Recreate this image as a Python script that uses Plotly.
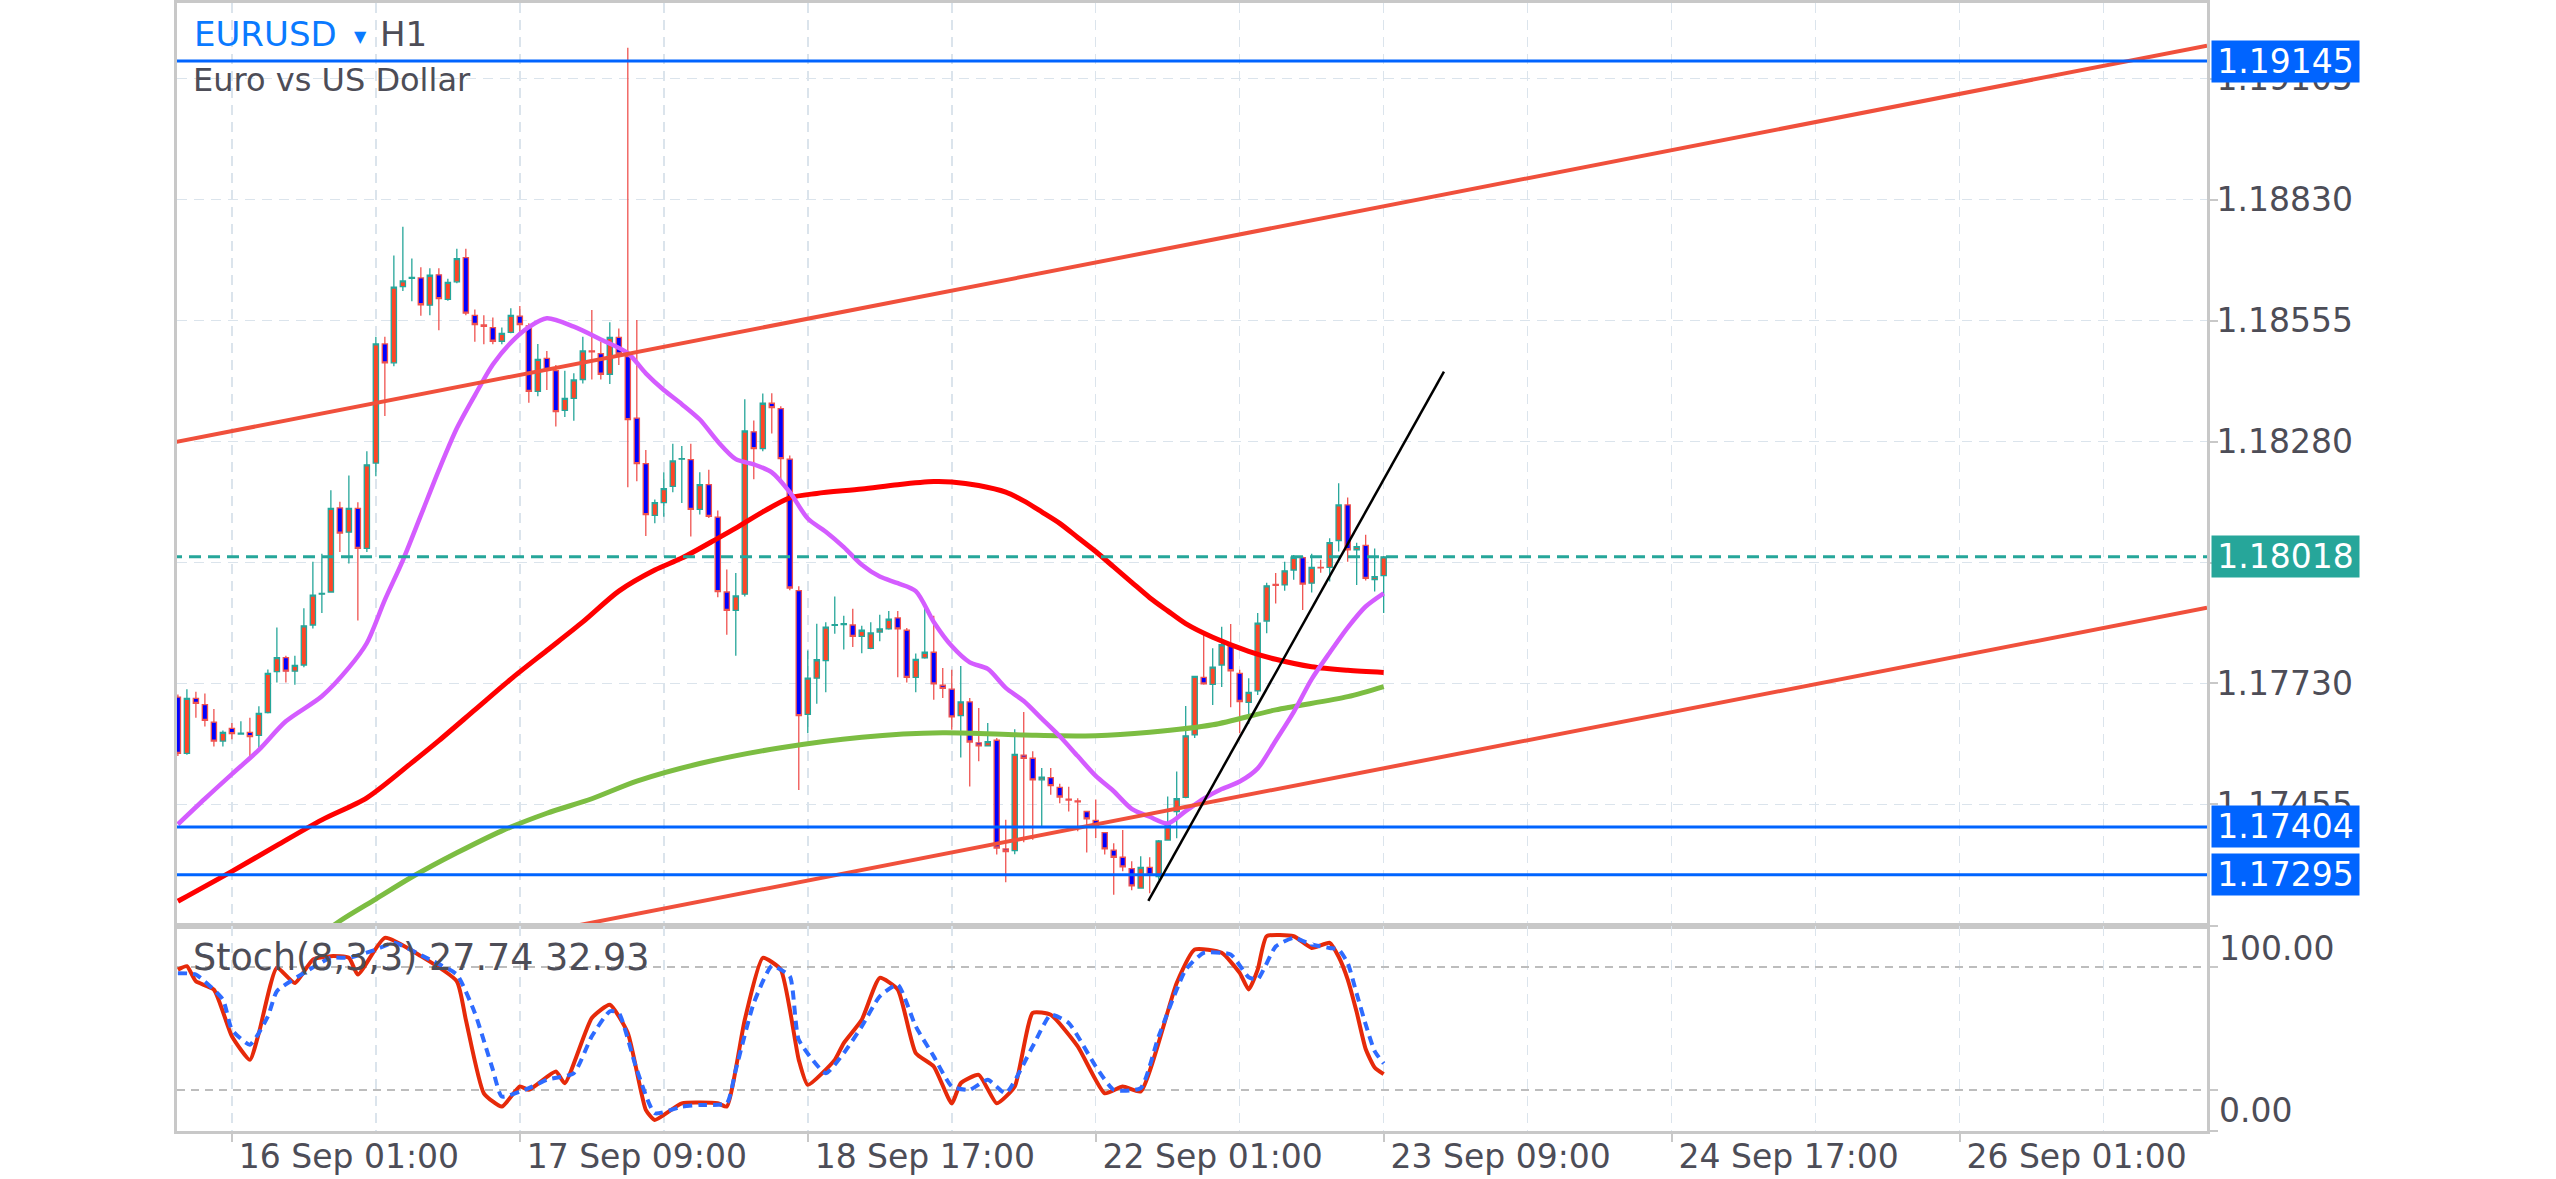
import plotly.graph_objects as go
from plotly.subplots import make_subplots

# ---------------- data (EURUSD H1) ----------------
FIRST_BAR = -6  # bar index of first candle; bar 0 = 16 Sep 01:00

opens = [1.17699, 1.17571, 1.17696, 1.17682, 1.17642, 1.17599, 1.17628, 1.17615, 1.17619, 1.17612,
         1.17664, 1.17757, 1.17789, 1.17758, 1.17772, 1.17863, 1.17933, 1.17938, 1.18129, 1.18074,
         1.18128, 1.18037, 1.18231, 1.18502, 1.18459, 1.18632, 1.18651, 1.18652, 1.18590, 1.18659,
         1.18603, 1.18643, 1.18698, 1.18567, 1.18545, 1.18539, 1.18508, 1.18528, 1.18565, 1.18543,
         1.18394, 1.18469, 1.18441, 1.18351, 1.18378, 1.18421, 1.18486, 1.18480, 1.18433, 1.18517,
         1.18473, 1.18333, 1.18230, 1.18112, 1.18141, 1.18178, 1.18240, 1.18239, 1.18126, 1.18182,
         1.18108, 1.17938, 1.17896, 1.17933, 1.18302, 1.18264, 1.18367, 1.18355, 1.18240, 1.17941,
         1.17660, 1.17742, 1.17782, 1.17862, 1.17864, 1.17863, 1.17837, 1.17810, 1.17847, 1.17854,
         1.17879, 1.17851, 1.17744, 1.17788, 1.17801, 1.17726, 1.17717, 1.17657, 1.17688, 1.17595,
         1.17588, 1.17601, 1.17354, 1.17350, 1.17567, 1.17560, 1.17511, 1.17516, 1.17494, 1.17467,
         1.17463, 1.17439, 1.17419, 1.17391, 1.17351, 1.17335, 1.17309, 1.17265, 1.17312, 1.17291,
         1.17374, 1.17439, 1.17471, 1.17613, 1.17744, 1.17728, 1.17772, 1.17816, 1.17753, 1.17687,
         1.17713, 1.17872, 1.17955, 1.17954, 1.17988, 1.18016, 1.17958, 1.17994, 1.17994, 1.18055,
         1.18136, 1.18034, 1.18044, 1.17966, 1.17975]
highs = [1.17705, 1.17717, 1.17711, 1.17707, 1.17672, 1.17623, 1.17640, 1.17644, 1.17652, 1.17678,
         1.17762, 1.17857, 1.17793, 1.17793, 1.17901, 1.18007, 1.18025, 1.18169, 1.18143, 1.18203,
         1.18142, 1.18258, 1.18518, 1.18518, 1.18703, 1.18768, 1.18696, 1.18676, 1.18674, 1.18674,
         1.18650, 1.18718, 1.18718, 1.18580, 1.18567, 1.18562, 1.18539, 1.18583, 1.18588, 1.18549,
         1.18502, 1.18486, 1.18454, 1.18441, 1.18435, 1.18518, 1.18579, 1.18507, 1.18551, 1.18537,
         1.19175, 1.18556, 1.18261, 1.18148, 1.18210, 1.18275, 1.18270, 1.18275, 1.18210, 1.18216,
         1.18123, 1.17989, 1.17981, 1.18376, 1.18328, 1.18389, 1.18390, 1.18360, 1.18248, 1.17951,
         1.17805, 1.17866, 1.17869, 1.17928, 1.17884, 1.17900, 1.17861, 1.17869, 1.17886, 1.17895,
         1.17895, 1.17856, 1.17798, 1.17913, 1.17884, 1.17765, 1.17761, 1.17770, 1.17697, 1.17674,
         1.17640, 1.17606, 1.17420, 1.17626, 1.17665, 1.17576, 1.17538, 1.17538, 1.17502, 1.17495,
         1.17469, 1.17440, 1.17466, 1.17392, 1.17367, 1.17397, 1.17326, 1.17337, 1.17335, 1.17374,
         1.17473, 1.17530, 1.17679, 1.17747, 1.17844, 1.17810, 1.17859, 1.17865, 1.17761, 1.17742,
         1.17890, 1.17959, 1.17981, 1.18007, 1.18022, 1.18019, 1.18025, 1.18011, 1.18060, 1.18185,
         1.18153, 1.18050, 1.18068, 1.18037, 1.18020]
lows = [1.17565, 1.17568, 1.17652, 1.17632, 1.17587, 1.17587, 1.17603, 1.17615, 1.17563, 1.17579,
        1.17662, 1.17732, 1.17732, 1.17727, 1.17767, 1.17855, 1.17890, 1.17936, 1.18029, 1.18003,
        1.17873, 1.18029, 1.18201, 1.18338, 1.18451, 1.18622, 1.18599, 1.18566, 1.18567, 1.18533,
        1.18600, 1.18640, 1.18567, 1.18507, 1.18501, 1.18501, 1.18501, 1.18526, 1.18526, 1.18368,
        1.18383, 1.18397, 1.18314, 1.18336, 1.18327, 1.18412, 1.18421, 1.18421, 1.18411, 1.18454,
        1.18176, 1.18190, 1.18065, 1.18094, 1.18109, 1.18165, 1.18140, 1.18064, 1.18114, 1.18106,
        1.17926, 1.17841, 1.17793, 1.17928, 1.18194, 1.18258, 1.18298, 1.18189, 1.17942, 1.17488,
        1.17617, 1.17684, 1.17710, 1.17843, 1.17807, 1.17813, 1.17799, 1.17808, 1.17826, 1.17852,
        1.17744, 1.17732, 1.17710, 1.17786, 1.17693, 1.17697, 1.17625, 1.17562, 1.17496, 1.17553,
        1.17587, 1.17341, 1.17278, 1.17342, 1.17369, 1.17375, 1.17405, 1.17477, 1.17458, 1.17439,
        1.17394, 1.17346, 1.17379, 1.17341, 1.17250, 1.17303, 1.17260, 1.17265, 1.17253, 1.17284,
        1.17373, 1.17378, 1.17469, 1.17606, 1.17727, 1.17681, 1.17722, 1.17676, 1.17617, 1.17638,
        1.17704, 1.17844, 1.17912, 1.17941, 1.17966, 1.17897, 1.17937, 1.17982, 1.17962, 1.18030,
        1.18007, 1.17954, 1.17964, 1.17939, 1.17890]
closes = [1.17571, 1.17696, 1.17685, 1.17646, 1.17599, 1.17619, 1.17616, 1.17617, 1.17609, 1.17662,
          1.17753, 1.17789, 1.17758, 1.17771, 1.17861, 1.17931, 1.17935, 1.18128, 1.18072, 1.18128,
          1.18037, 1.18227, 1.18502, 1.18459, 1.18631, 1.18645, 1.18653, 1.18591, 1.18658, 1.18605,
          1.18642, 1.18696, 1.18572, 1.18546, 1.18542, 1.18508, 1.18526, 1.18567, 1.18546, 1.18394,
          1.18467, 1.18444, 1.18348, 1.18378, 1.18420, 1.18486, 1.18484, 1.18433, 1.18517, 1.18479,
          1.18330, 1.18230, 1.18114, 1.18141, 1.18173, 1.18236, 1.18241, 1.18126, 1.18182, 1.18110,
          1.17939, 1.17896, 1.17929, 1.18304, 1.18264, 1.18367, 1.18357, 1.18241, 1.17947, 1.17657,
          1.17742, 1.17784, 1.17858, 1.17864, 1.17866, 1.17837, 1.17851, 1.17845, 1.17854, 1.17876,
          1.17854, 1.17744, 1.17785, 1.17801, 1.17729, 1.17719, 1.17654, 1.17688, 1.17597, 1.17588,
          1.17598, 1.17356, 1.17348, 1.17569, 1.17560, 1.17511, 1.17517, 1.17498, 1.17472, 1.17465,
          1.17461, 1.17422, 1.17404, 1.17354, 1.17335, 1.17313, 1.17270, 1.17312, 1.17295, 1.17372,
          1.17410, 1.17468, 1.17611, 1.17746, 1.17729, 1.17767, 1.17818, 1.17759, 1.17689, 1.17710,
          1.17867, 1.17952, 1.17953, 1.17986, 1.18017, 1.17956, 1.17994, 1.17993, 1.18050, 1.18136,
          1.18034, 1.18041, 1.17969, 1.17973, 1.18018]

# moving averages (bar index, value)
ma_fast_bars = [-6, -3, 0, 3, 6, 10, 13, 15, 17, 19, 21, 23, 25, 27, 29, 31, 33, 35, 38, 41,
                44, 46, 48, 50, 52, 54, 56, 58, 60, 62, 64, 66, 68, 70, 72, 74, 76, 78, 80, 82,
                84, 86, 88, 90, 92, 94, 96, 98, 100, 102, 104, 106, 108, 110, 112, 114, 116, 118, 120, 122,
                124, 126, 128]
ma_fast = [1.17410, 1.17468, 1.17524, 1.17579, 1.17644, 1.17701, 1.17766, 1.17822, 1.17920, 1.18010,
           1.18112, 1.18215, 1.18310, 1.18385, 1.18455, 1.18505, 1.18540, 1.18560, 1.18541, 1.18512,
           1.18481, 1.18435, 1.18397, 1.18365, 1.18330, 1.18280, 1.18240, 1.18228, 1.18210, 1.18165,
           1.18105, 1.18075, 1.18040, 1.18000, 1.17973, 1.17958, 1.17940, 1.17870, 1.17815, 1.17778,
           1.17763, 1.17720, 1.17690, 1.17650, 1.17610, 1.17565, 1.17520, 1.17485, 1.17445, 1.17427,
           1.17412, 1.17440, 1.17468, 1.17490, 1.17507, 1.17537, 1.17600, 1.17665, 1.17740, 1.17800,
           1.17857, 1.17905, 1.17935]

ma_mid_bars = [-6, 0, 5, 10, 15, 20, 23, 27, 31, 35, 39, 43, 47, 50, 54, 56, 59, 62, 65, 70,
               74, 78, 80, 83, 86, 88, 90, 92, 94, 96, 98, 100, 102, 104, 106, 109, 113, 116, 120, 124,
               128]
ma_mid = [1.17235, 1.17303, 1.17362, 1.17420, 1.17470, 1.17550, 1.17600, 1.17670, 1.17740, 1.17805,
          1.17870, 1.17940, 1.17988, 1.18015, 1.18060, 1.18083, 1.18120, 1.18152, 1.18162, 1.18172,
          1.18182, 1.18189, 1.18188, 1.18180, 1.18165, 1.18145, 1.18120, 1.18094, 1.18062, 1.18030,
          1.17995, 1.17960, 1.17925, 1.17895, 1.17866, 1.17835, 1.17803, 1.17785, 1.17768, 1.17760,
          1.17755]

ma_slow_bars = [8, 12, 16, 20, 25, 30, 35, 40, 45, 52, 61, 70, 79, 88, 96, 102, 109, 116, 124, 128]
ma_slow = [1.17130, 1.17190, 1.17240, 1.17290, 1.17345, 1.17395, 1.17435, 1.17468, 1.17508, 1.17548,
           1.17584, 1.17608, 1.17618, 1.17613, 1.17611, 1.17619, 1.17636, 1.17670, 1.17700, 1.17723]

# stochastic (8,3,3)
stoch_k_bars = [-6, -5, -4, -2, 0, 2, 3, 5, 7, 9, 11, 13, 14, 17, 21, 25, 26, 28, 30, 32,
                33, 36, 37, 40, 42, 44, 46, 47, 50, 54, 55, 57, 59, 61, 63, 64, 67, 68, 70, 72,
                74, 76, 78, 80, 81, 83, 85, 87, 89, 91, 94, 97, 99, 101, 105, 107, 110, 112, 113, 114,
                115, 118, 120, 122, 123, 124, 125, 126, 127, 128]
stoch_k = [78.7, 80.4, 73.0, 69.0, 46.2, 34.7, 47.8, 79.6, 72.2, 83.6, 85.3, 84.5, 76.3, 94.2, 85.3, 73.0, 54.3, 18.4, 11.9, 21.7,
           20.1, 29.0, 23.3, 55.1, 61.6, 47.8, 10.3, 5.4, 13.5, 13.5, 11.9, 54.3, 84.5, 78.7, 34.7, 22.5, 34.7, 42.9, 54.3, 74.7,
           69.0, 38.0, 31.5, 13.5, 23.3, 27.4, 13.5, 21.7, 57.6, 56.7, 41.3, 18.4, 21.7, 19.3, 72.2, 88.5, 86.9, 77.1, 69.0, 78.7,
           95.0, 95.0, 89.3, 91.8, 85.0, 74.0, 58.0, 40.0, 31.0, 27.74]
stoch_d_bars = [-6, -4, -1, 0, 2, 4, 5, 8, 11, 13, 16, 18, 22, 25, 27, 29, 30, 33, 35, 38,
                40, 42, 43, 45, 47, 50, 52, 55, 56, 58, 60, 62, 63, 66, 68, 70, 72, 74, 76, 78,
                80, 82, 84, 86, 89, 91, 93, 96, 98, 101, 103, 106, 108, 111, 113, 114, 116, 118, 120, 122,
                123, 124, 125, 126, 127, 128]
stoch_d = [77.0, 76.3, 64.1, 49.4, 42.1, 55.9, 68.2, 77.1, 84.5, 84.5, 88.5, 91.8, 83.6, 76.3, 57.6, 29.9, 16.8, 20.9, 25.0, 28.2,
           46.2, 58.4, 57.6, 29.9, 8.7, 11.9, 12.7, 13.5, 29.9, 62.4, 80.4, 75.5, 44.5, 28.2, 38.0, 51.0, 65.7, 71.4, 51.0, 36.4,
           21.7, 20.1, 25.0, 18.4, 41.3, 56.7, 52.7, 31.5, 20.1, 20.9, 46.2, 78.7, 86.9, 86.1, 75.0, 74.0, 90.0, 94.2, 91.0, 89.3,
           88.5, 82.0, 67.0, 52.0, 39.0, 32.93]

# drawn objects
hlines = [1.19145, 1.17404, 1.17295]
bid_price = 1.18018
channel_upper = ([-6.2, 219.5], [1.18279, 1.19180])
channel_lower = ([37.4, 219.5], [1.17176, 1.17902])
trend_line = ([101.85, 134.7], [1.17236, 1.18439])

# axis labels
x_tick_bars = [0, 32, 64, 96, 128, 160, 192]
x_tick_text = ["16 Sep 01:00", "17 Sep 09:00", "18 Sep 17:00", "22 Sep 01:00",
               "23 Sep 09:00", "24 Sep 17:00", "26 Sep 01:00"]
price_ticks = [1.19105, 1.18830, 1.18555, 1.18280, 1.18005, 1.17730, 1.17455]
price_ranges = [1.171787, 1.192769]
x_range = [-6.1, 219.5]

# ---------------- layout constants (pixels) ----------------
W, H = 2556, 1179
PL, PR, PT, PB = 177, 2207, 3, 1131   # plot box
SPLIT = 926                            # main / stoch boundary
FONT = "DejaVu Sans"
TXT = "#4d4d57"
FRAME = "#c8c8c8"
GRID = "#dbe4ec"

def xp(px):
    return (px - PL) / (PR - PL)

def yp(py):
    return (PB - py) / (PB - PT)

main_h = (SPLIT - PT) / (PB - PT)
fig = make_subplots(rows=2, cols=1, shared_xaxes=True, vertical_spacing=0,
                    row_heights=[main_h, 1 - main_h])

bars = list(range(FIRST_BAR, FIRST_BAR + len(opens)))

fig.add_trace(go.Candlestick(
    x=bars, open=opens, high=highs, low=lows, close=closes,
    increasing=dict(line=dict(color="#26a69a", width=1.3), fillcolor="#ff4526"),
    decreasing=dict(line=dict(color="#ef5350", width=1.3), fillcolor="#0000ff"),
    whiskerwidth=0, showlegend=False, hoverinfo="skip"), row=1, col=1)

fig.add_trace(go.Scatter(x=ma_slow_bars, y=ma_slow, mode="lines",
                         line=dict(color="#7cbd42", width=5, shape="spline", smoothing=0.8),
                         showlegend=False, hoverinfo="skip"), row=1, col=1)
fig.add_trace(go.Scatter(x=ma_mid_bars, y=ma_mid, mode="lines",
                         line=dict(color="#ff0000", width=5, shape="spline", smoothing=0.8),
                         showlegend=False, hoverinfo="skip"), row=1, col=1)
fig.add_trace(go.Scatter(x=ma_fast_bars, y=ma_fast, mode="lines",
                         line=dict(color="#d45cff", width=4.5, shape="spline", smoothing=0.8),
                         showlegend=False, hoverinfo="skip"), row=1, col=1)

for cx, cy in (channel_upper, channel_lower):
    fig.add_trace(go.Scatter(x=cx, y=cy, mode="lines", line=dict(color="#f0503c", width=4),
                             showlegend=False, hoverinfo="skip"), row=1, col=1)

for lv in hlines:
    fig.add_trace(go.Scatter(x=[x_range[0] - 5, x_range[1] + 5], y=[lv, lv], mode="lines",
                             line=dict(color="#0064ff", width=3),
                             showlegend=False, hoverinfo="skip"), row=1, col=1)

fig.add_trace(go.Scatter(x=[x_range[0] - 5, x_range[1] + 5], y=[bid_price, bid_price], mode="lines",
                         line=dict(color="#26a69a", width=3, dash="12px,7px"),
                         showlegend=False, hoverinfo="skip"), row=1, col=1)

fig.add_trace(go.Scatter(x=trend_line[0], y=trend_line[1], mode="lines",
                         line=dict(color="#000000", width=2.5),
                         showlegend=False, hoverinfo="skip"), row=1, col=1)

# stochastic
fig.add_trace(go.Scatter(x=stoch_k_bars, y=stoch_k, mode="lines",
                         line=dict(color="#e62a0a", width=4, shape="spline", smoothing=0.5),
                         showlegend=False, hoverinfo="skip"), row=2, col=1)
fig.add_trace(go.Scatter(x=stoch_d_bars, y=stoch_d, mode="lines",
                         line=dict(color="#2e6bff", width=4, dash="9px,6px", shape="spline", smoothing=0.5),
                         showlegend=False, hoverinfo="skip"), row=2, col=1)

axis_common = dict(showline=True, linecolor=FRAME, linewidth=3, mirror=True, zeroline=False,
                   automargin=False)

fig.update_xaxes(range=x_range, **axis_common,
                 rangeslider=dict(visible=False),
                 tickmode="array", tickvals=x_tick_bars, ticktext=x_tick_text,
                 showgrid=False,
                 minor=dict(tick0=0, dtick=16, showgrid=True, gridcolor=GRID, gridwidth=1.5,
                            griddash="10px,7px", ticks=""))
fig.update_xaxes(showticklabels=False, ticks="", row=1, col=1)
fig.update_xaxes(showticklabels=True, ticks="outside", ticklen=8, tickcolor=FRAME, tickwidth=2,
                 tickfont=dict(family=FONT, size=33, color=TXT), ticklabelshift=117,
                 ticklabelstandoff=-14, row=2, col=1)

fig.update_yaxes(range=price_ranges, side="right", **axis_common,
                 tickmode="array", tickvals=price_ticks,
                 ticktext=[f"{v:.5f}" for v in price_ticks],
                 ticks="outside", ticklen=8, tickcolor=FRAME, tickwidth=2,
                 tickfont=dict(family=FONT, size=33, color=TXT), ticklabelstandoff=-8,
                 showgrid=True, gridcolor=GRID, gridwidth=1.5, griddash="10px,7px",
                 row=1, col=1)
fig.update_yaxes(range=[0, 100], side="right", **axis_common,
                 tickmode="array", tickvals=[0, 20, 80, 100], showticklabels=False,
                 ticks="outside", ticklen=8, tickcolor=FRAME, tickwidth=2,
                 showgrid=True, gridcolor="#bdbdbd", gridwidth=1.5, griddash="8px,6px",
                 row=2, col=1)

ann = []
ann.append(dict(x=xp(192), y=yp(34), xref="paper", yref="paper", xanchor="left", yanchor="middle",
                text="EURUSD", showarrow=False, font=dict(family=FONT, size=34, color="#0a7aff")))
ann.append(dict(x=xp(360), y=yp(36), xref="paper", yref="paper", xanchor="center", yanchor="middle",
                text="▼", showarrow=False, font=dict(family=FONT, size=16, color="#0a7aff")))
ann.append(dict(x=xp(378), y=yp(34), xref="paper", yref="paper", xanchor="left", yanchor="middle",
                text="H1", showarrow=False, font=dict(family=FONT, size=34, color=TXT)))
ann.append(dict(x=xp(191), y=yp(80), xref="paper", yref="paper", xanchor="left", yanchor="middle",
                text="Euro vs US Dollar", showarrow=False, font=dict(family=FONT, size=32, color=TXT)))
ann.append(dict(x=xp(191), y=yp(957), xref="paper", yref="paper", xanchor="left", yanchor="middle",
                text=f"Stoch(8,3,3) {stoch_k[-1]:.2f} {stoch_d[-1]:.2f}", showarrow=False,
                font=dict(family=FONT, size=36.5, color=TXT)))
ann.append(dict(x=xp(2217), y=yp(948), xref="paper", yref="paper", xanchor="left", yanchor="middle",
                text="100.00", showarrow=False, font=dict(family=FONT, size=33, color=TXT)))
ann.append(dict(x=xp(2217), y=yp(1110), xref="paper", yref="paper", xanchor="left", yanchor="middle",
                text="0.00", showarrow=False, font=dict(family=FONT, size=33, color=TXT)))

def price_to_py(p):
    return SPLIT - (p - price_ranges[0]) / (price_ranges[1] - price_ranges[0]) * (SPLIT - PT)

for lv, col in [(hlines[0], "#0064ff"), (bid_price, "#26a69a"), (hlines[1], "#0064ff"), (hlines[2], "#0064ff")]:
    ann.append(dict(x=xp(2211), y=lv, xref="paper", yref="y", xanchor="left", yanchor="middle",
                    text=f"{lv:.5f}", showarrow=False, width=147, height=41, align="center",
                    bgcolor=col, borderpad=0, font=dict(family=FONT, size=33, color="#ffffff")))

shapes = []
for cx in (2275, 2295, 2315):
    cy = price_to_py(hlines[2]) + 3
    shapes.append(dict(type="circle", xref="paper", yref="paper",
                       x0=xp(cx - 4.5), x1=xp(cx + 4.5), y0=yp(cy + 4), y1=yp(cy - 4),
                       fillcolor="#555b66", line=dict(width=0)))

fig.update_layout(width=W, height=H, margin=dict(l=PL, r=W - PR, t=PT, b=H - PB, autoexpand=False),
                  paper_bgcolor="#ffffff", plot_bgcolor="#ffffff",
                  boxgap=0.42, boxgroupgap=0,
                  annotations=ann, shapes=shapes, showlegend=False,
                  font=dict(family=FONT, color=TXT))

fig.write_html("out.html", config={"displayModeBar": False, "staticPlot": True},
               post_script="document.body.style.margin='0';document.body.style.overflow='hidden';")
